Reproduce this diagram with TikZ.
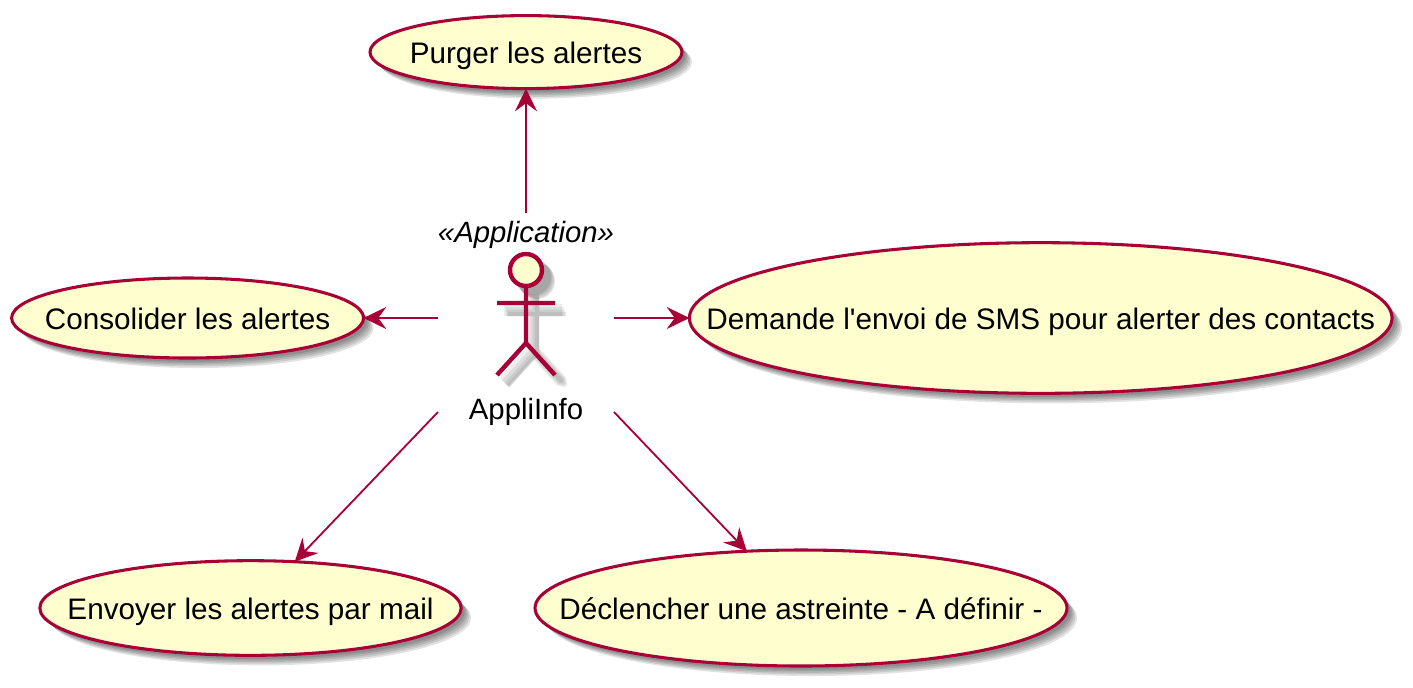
\documentclass[tikz,border=0pt]{standalone}
\usepackage{fontspec}
\setmainfont{Liberation Sans}
\usepackage{tikz}
\usetikzlibrary{arrows.meta,shapes.geometric,shadows,positioning}

\definecolor{umlred}{HTML}{A80036}
\definecolor{umlfill}{HTML}{FEFECE}

\begin{document}
\begin{tikzpicture}[x=0.75pt,y=-0.75pt,semithick,
    >={Stealth[length=17pt,width=16.5pt,inset=6pt]},
    softshadow/.style={drop shadow={shadow xshift=#1pt,shadow yshift=-#1pt,opacity=.11,fill=black}},
    usecase/.style={ellipse,draw=umlred,fill=umlfill,line width=2.3pt,outer sep=0pt,
                    inner xsep=-130pt,inner ysep=-20pt,text height=17.5pt,text depth=0pt,
                    font=\fontsize{22.25}{26}\selectfont,
                    softshadow=7.5,softshadow=6.3,softshadow=5.1,softshadow=3.9,softshadow=2.7},
    link/.style={->,draw=umlred,line width=1.35pt},
    actorline/.style={draw=umlred,line width=3.3pt},
    actorshadow/.style={draw=black,opacity=.07,line width=#1}]

  \useasboundingbox (0,0) rectangle (1413,687);

  % actor box, the connectors start on its edge
  \node[minimum width=132pt,minimum height=157.5pt,inner sep=0pt] (actor) at (526,318) {};
  \coordinate (actorSW) at (438,412);
  \coordinate (actorSE) at (614,412);

  \node[usecase,minimum width=234pt,minimum height=54.75pt] (purger) [above=93pt of actor] {Purger les alertes};
  \node[usecase,minimum width=264pt,minimum height=60pt]    (consolider) [left=55.5pt of actor] {Consolider les alertes};
  \node[usecase,minimum width=527pt,minimum height=113pt]   (sms) [right=56.25pt of actor] {Demande l\textquotesingle envoi de SMS pour alerter des contacts};
  \node[usecase,minimum width=316pt,minimum height=71pt]    (mail) at (250.5,608) {Envoyer les alertes par mail};
  \node[usecase,minimum width=399pt,minimum height=87pt]    (astreinte) at (801,608) {Déclencher une astreinte - A définir -};

  % stick figure
  \foreach \d/\w in {7/9pt,8.5/7pt,10/5pt,11/3pt}{
    \draw[actorshadow=\w] (526+\d,287+\d) -- (526+\d,343+\d) -- (497+\d,375+\d)
                          (526+\d,343+\d) -- (555+\d,375+\d)
                          (497+\d,303+\d) -- (555+\d,303+\d);
    \fill[black,opacity=.1] (526+\d,270+\d) circle[radius=18*0.75pt];
  }
  \node[circle,draw=umlred,fill=umlfill,line width=3.3pt,minimum size=24pt,inner sep=0pt] (head) at (526,270) {};
  \coordinate (hip) at (526,343);
  \draw[actorline] (head.south) -- (hip) -- (497,375) (hip) -- (555,375) (497,303) -- (555,303);

  \node[font=\fontsize{22}{26}\selectfont\itshape,inner sep=0pt] (stereo) at (526,235) {«Application»};
  \node[font=\fontsize{22}{26}\selectfont,inner sep=0pt] (name) at (526,412) {AppliInfo};

  \draw[link] (actor.north) -- (purger);
  \draw[link] (actor.west) -- (consolider);
  \draw[link] (actor.east) -- (sms);
  \draw[link] (actorSW) -- (mail);
  \draw[link] (actorSE) -- (astreinte);

\end{tikzpicture}
\end{document}
